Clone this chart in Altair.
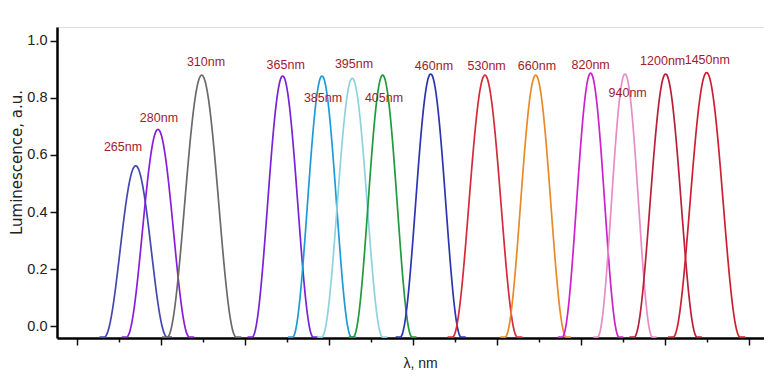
import altair as alt
import numpy as np
import pandas as pd

# Peak data (x in tick units of the unlabeled wavelength axis)
labels = ["265nm", "280nm", "310nm", "365nm", "385nm", "395nm", "405nm",
          "460nm", "530nm", "660nm", "820nm", "940nm", "1200nm", "1450nm"]
centers = [0.699, 0.964, 1.485, 2.449, 2.917, 3.277, 3.639,
           4.211, 4.857, 5.461, 6.115, 6.524, 7.008, 7.496]
heights = [0.562, 0.690, 0.880, 0.877, 0.877, 0.869, 0.880,
           0.884, 0.880, 0.880, 0.887, 0.884, 0.884, 0.889]
fwhm = [0.375, 0.375, 0.411, 0.364, 0.351, 0.363, 0.351,
        0.363, 0.387, 0.365, 0.339, 0.327, 0.375, 0.399]
colors = ["#4548ad", "#8a1ed8", "#6a6a6a", "#7a22d8", "#1e9bd7", "#8fd2de", "#1f9a3c",
          "#2b35b0", "#d42a3a", "#e8892a", "#cc22cc", "#e88cc8", "#b8203a", "#cc2030"]
label_x = [0.548, 0.976, 1.536, 2.485, 2.929, 3.298, 3.655,
           4.250, 4.877, 5.476, 6.115, 6.556, 6.973, 7.504]
label_y = [0.628, 0.730, 0.926, 0.916, 0.801, 0.919, 0.801,
           0.913, 0.912, 0.912, 0.916, 0.816, 0.931, 0.933]
baseline = -0.039

x_ticks = [i * 0.5 for i in range(17)]
y_ticks = [round(i * 0.1, 1) for i in range(11)]

rows = []
for lab, c, h, w in zip(labels, centers, heights, fwhm):
    xs = np.linspace(c - 1.15 * w, c + 1.15 * w, 161)
    d = np.abs(xs - c)
    shape = np.where(d < w, np.cos(np.pi * d / (2 * w)) ** 2, 0.0)
    ys = baseline + (h - baseline) * shape
    for xv, yv in zip(xs, ys):
        rows.append({"x": float(xv), "y": float(yv), "peak": lab})
curves = pd.DataFrame(rows)
label_df = pd.DataFrame({"label": labels, "lx": label_x, "ly": label_y})

xscale = alt.Scale(domain=[-0.238, 8.179], nice=False, zero=False)
yscale = alt.Scale(domain=[-0.042, 1.049], nice=False, zero=False)

x_axis = alt.Axis(
    values=x_ticks, labels=False, grid=False, title="λ, nm",
    domainColor="#000000", domainWidth=2.5, tickColor="#111111", tickWidth=1.5,
    tickSize={"condition": {"test": "abs(datum.value - round(datum.value)) < 0.01", "value": 7}, "value": 4},
    titleFont="Liberation Sans", titleFontSize=14, titleFontWeight="normal", titleColor="#222222",
    titleX=363, titleY=25, titleBaseline="middle",
)
y_axis = alt.Axis(
    values=y_ticks, grid=False, title="Luminescence, a.u.",
    labelExpr="abs(datum.value*5 - round(datum.value*5)) < 0.01 ? format(datum.value, '.1f') : ''",
    labelFont="Liberation Sans", labelFontSize=14.5, labelColor="#222222", labelPadding=3,
    domainColor="#000000", domainWidth=2.5, tickColor="#111111", tickWidth=1.5,
    tickSize={"condition": {"test": "abs(datum.value*5 - round(datum.value*5)) < 0.01", "value": 7}, "value": 4},
    titleFont="DejaVu Sans", titleFontSize=15, titleFontWeight="normal", titleColor="#222222",
    titleX=-33, titleY=135,
)

lines = alt.Chart(curves).mark_line(strokeWidth=1.7, interpolate="monotone").encode(
    x=alt.X("x:Q", scale=xscale, axis=x_axis),
    y=alt.Y("y:Q", scale=yscale, axis=y_axis),
    color=alt.Color("peak:N", scale=alt.Scale(domain=labels, range=colors), legend=None),
    order=alt.Order("x:Q"),
)

texts = alt.Chart(label_df).mark_text(
    font="Liberation Sans", fontSize=12.5, color="#9e1c2c", align="center", baseline="middle",
).encode(
    x=alt.X("lx:Q", scale=xscale),
    y=alt.Y("ly:Q", scale=yscale),
    text="label:N",
)

chart = alt.layer(lines, texts).properties(
    width=707, height=311,
    autosize=alt.AutoSizeParams(type="none"),
    padding={"left": 49, "top": 19, "right": 0, "bottom": 40},
).configure_view(stroke=None).configure(background="#ffffff")

chart.save("out.html", embed_options={"renderer": "svg", "actions": False})
